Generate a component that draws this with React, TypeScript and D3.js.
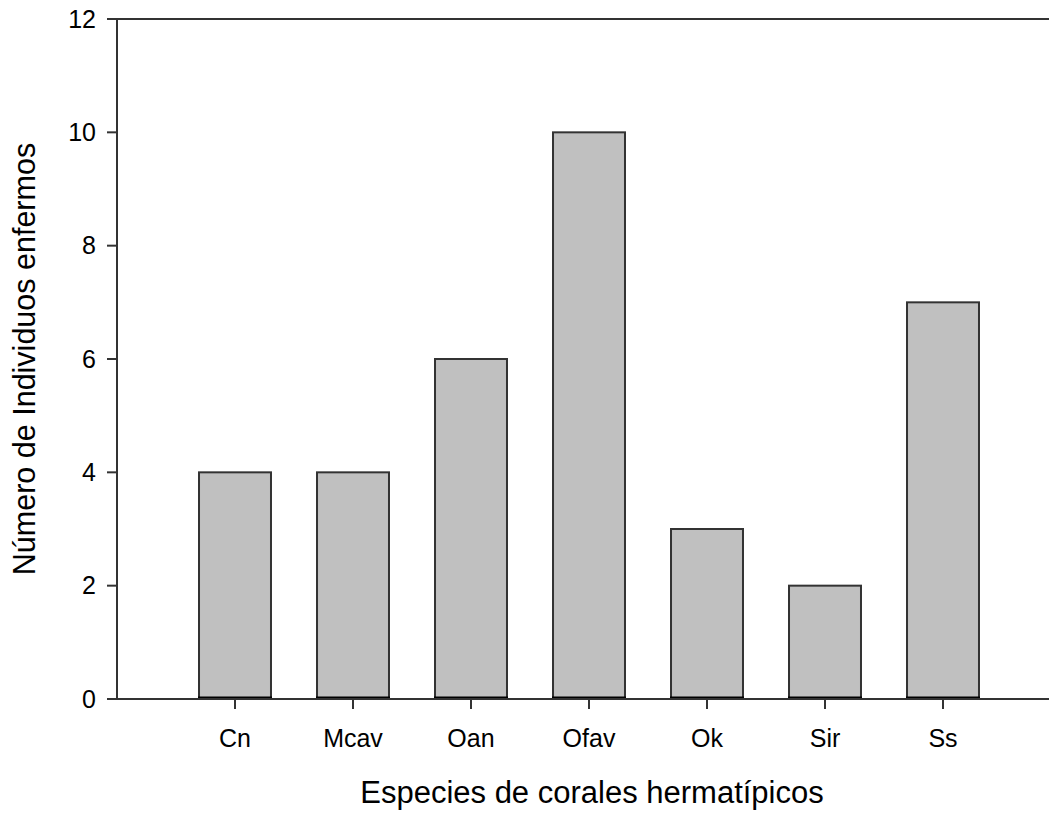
import React from "react";
import * as d3 from "d3";

const categories = ["Cn", "Mcav", "Oan", "Ofav", "Ok", "Sir", "Ss"];
const values = [4, 4, 6, 10, 3, 2, 7];
const yTicks = [0, 2, 4, 6, 8, 10, 12];
const xTitle = "Especies de corales hermatípicos";
const yTitle = "Número de Individuos enfermos";

export default function App() {
  const W = 1049, H = 814;
  const left = 117, top = 19, bottom = 699;
  const y = d3.scaleLinear().domain([0, 12]).range([bottom, top]);
  const x = d3.scaleBand<string>().domain(categories).range([176, 1002]).paddingInner(0.39).paddingOuter(0.195);
  const font = "'Liberation Sans', Arial, sans-serif";
  return (
    <svg width={W} height={H} style={{ position: "absolute", left: 0, top: 0, background: "#fff" }} fontFamily={font}>
      {categories.map((c, i) => {
        const x0 = x(c)!;
        const bw = x.bandwidth();
        return (
          <g key={c}>
            <rect x={x0} y={y(values[i])} width={bw} height={y(0) - y(values[i])} fill="#c0c0c0" stroke="#333" strokeWidth={2} />
            <line x1={x0 - 1} x2={x0 + bw + 1} y1={y(0) - 1.2} y2={y(0) - 1.2} stroke="#000" strokeWidth={2.6} />
          </g>
        );
      })}
      {/* frame */}
      <line x1={left - 10} x2={W} y1={top} y2={top} stroke="#333" strokeWidth={2} />
      <line x1={left} x2={left} y1={top} y2={bottom} stroke="#333" strokeWidth={2} />
      <line x1={left - 10} x2={W} y1={bottom} y2={bottom} stroke="#333" strokeWidth={2} />
      {yTicks.map((t) => (
        <g key={t}>
          <line x1={left - 10} x2={left} y1={y(t)} y2={y(t)} stroke="#333" strokeWidth={2} />
          <text x={96} y={y(t)} dy="0.35em" textAnchor="end" fontSize={25} fill="#000">{t}</text>
        </g>
      ))}
      {categories.map((c) => {
        const cx = x(c)! + x.bandwidth() / 2;
        return (
          <g key={"t" + c}>
            <line x1={cx} x2={cx} y1={bottom} y2={bottom + 10} stroke="#333" strokeWidth={2} />
            <text x={cx} y={747} textAnchor="middle" fontSize={25} fill="#000">{c}</text>
          </g>
        );
      })}
      <text x={592} y={803} textAnchor="middle" fontSize={31} fill="#000">{xTitle}</text>
      <text transform={`translate(35,359) rotate(-90)`} textAnchor="middle" fontSize={30.5} fill="#000">{yTitle}</text>
    </svg>
  );
}
